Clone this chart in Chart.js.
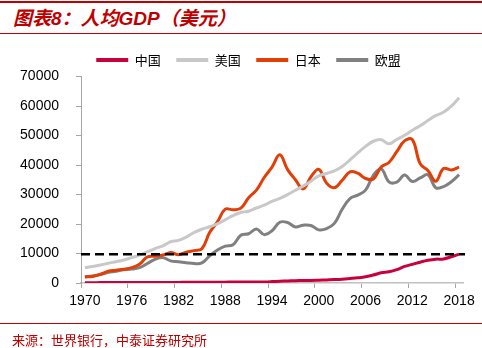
<!DOCTYPE html>
<html>
<head>
<meta charset="utf-8">
<script src="https://cdn.jsdelivr.net/npm/chart.js@4/dist/chart.umd.min.js"></script>
<style>
  html, body { margin: 0; padding: 0; background: #fff; }
  #wrap { position: relative; width: 482px; height: 348px; overflow: hidden; }
  .rule { position: absolute; left: 0; width: 482px; background: #c00000; }
  #title {
    position: absolute; left: 13px; top: 8px; line-height: 22px;
    font-family: "Liberation Sans", "Noto Sans CJK SC", sans-serif;
    font-size: 19px; font-weight: bold; font-style: italic; color: #c00000;
    white-space: nowrap;
  }
  #source {
    position: absolute; left: 12px; top: 331px; line-height: 18px;
    font-family: "Noto Sans CJK SC", sans-serif; font-size: 13px; color: #c00000;
    white-space: nowrap;
  }
  canvas { position: absolute; left: 0; top: 0; }
</style>
</head>
<body>
<div id="wrap">
  <div class="rule" style="top:1px;height:2px;"></div>
  <div id="title">图表8：人均GDP（美元）</div>
  <div class="rule" style="top:33px;height:1px;"></div>
  <canvas id="chart" width="482" height="348"></canvas>
  <div class="rule" style="top:323px;height:1px;"></div>
  <div id="source">来源：世界银行，中泰证券研究所</div>
</div>
<script>
(function () {
  'use strict';

  var years = ['1970','1971','1972','1973','1974','1975','1976','1977','1978','1979',
               '1980','1981','1982','1983','1984','1985','1986','1987','1988','1989',
               '1990','1991','1992','1993','1994','1995','1996','1997','1998','1999',
               '2000','2001','2002','2003','2004','2005','2006','2007','2008','2009',
               '2010','2011','2012','2013','2014','2015','2016','2017','2018'];

  var china = [113,119,132,157,160,178,165,185,156,184,
               195,197,203,225,251,294,282,252,284,311,
               318,333,366,377,473,610,709,782,829,873,
               959,1053,1149,1289,1509,1753,2099,2694,3468,3832,
               4550,5618,6317,7051,7679,8067,8148,8879,9771];

  var usa = [5234,5609,6094,6726,7226,7801,8592,9453,10565,11674,
             12575,13976,14434,15544,17121,18237,19071,20039,21417,22857,
             23889,24342,25419,26387,27695,28691,29968,31459,32854,34515,
             36330,37134,37998,39490,41725,44123,46302,48050,48570,47195,
             48651,50066,51784,53291,55124,56763,57867,59928,62805];

  var japan = [2037,2234,2950,3998,4354,4659,5198,6335,8821,9105,
               9463,10361,9578,10425,10977,11585,17112,20745,25051,24813,
               25359,28925,31465,35766,39269,43440,38437,35022,31903,36027,
               38532,33846,32289,34808,37689,37218,35434,35275,39339,40855,
               44508,48168,48603,40454,38109,34524,38794,38332,39290];

  var eu = [2100,2400,2900,3600,4000,4500,4700,5200,6600,8000,
            8600,7500,7200,6900,6600,6800,9200,11200,12500,13000,
            16200,16700,18300,16400,17700,20600,20500,19000,19600,19500,
            18000,18400,20200,25000,28600,29800,31500,36500,38700,34300,
            34200,36600,34400,35600,36700,32300,32700,34300,36700];

  var seriesNames = ['中国', '美国', '日本', '欧盟'];
  var seriesColors = ['#c8003c', '#c8c8c8', '#e23e08', '#808080'];
  var yTicks = [0, 10000, 20000, 30000, 40000, 50000, 60000, 70000];
  var dashValue = 9771;

  var tickFont = { family: 'Liberation Sans, Arial, sans-serif', size: 14 };
  var axisGray = '#a6a6a6';
  var LEGEND_SHIFT = 17;

  function makeSet(i, data) {
    return {
      label: seriesNames[i],
      data: data,
      borderColor: seriesColors[i],
      backgroundColor: seriesColors[i],
      borderWidth: 3,
      pointRadius: 0,
      tension: 0.4,
      fill: false
    };
  }

  // black dashed reference line at China's latest level
  var dashLine = {
    id: 'dashLine',
    afterDatasetsDraw: function (chart) {
      var ctx = chart.ctx;
      var area = chart.chartArea;
      var y = chart.scales.y.getPixelForValue(dashValue);
      ctx.save();
      ctx.strokeStyle = '#000';
      ctx.lineWidth = 2.5;
      ctx.setLineDash([9, 5]);
      ctx.beginPath();
      ctx.moveTo(area.left, y);
      ctx.lineTo(area.right + 2, y);
      ctx.stroke();
      ctx.restore();
    }
  };

  // legend in the original sits a bit right of the canvas centre
  var legendNudge = {
    id: 'legendNudge',
    afterLayout: function (chart) {
      if (!chart.legend) return;
      chart.legend.left += LEGEND_SHIFT;
      chart.legend.right += LEGEND_SHIFT;
    }
  };

  new Chart(document.getElementById('chart'), {
    type: 'line',
    data: {
      labels: years,
      datasets: [makeSet(0, china), makeSet(1, usa), makeSet(2, japan), makeSet(3, eu)]
    },
    options: {
      responsive: false,
      animation: false,
      devicePixelRatio: 1,
      layout: { padding: { top: 38, left: 0, right: 19, bottom: 35 } },
      plugins: {
        tooltip: { enabled: false },
        legend: {
          position: 'top',
          labels: {
            boxWidth: 32,
            boxHeight: 4,
            padding: 15.5,
            color: '#000',
            font: { family: 'Noto Sans CJK SC, sans-serif', size: 13 },
            generateLabels: function (chart) {
              var items = Chart.defaults.plugins.legend.labels.generateLabels(chart);
              items.forEach(function (it) { it.lineWidth = 0; });
              return items;
            }
          }
        }
      },
      scales: {
        x: {
          type: 'category',
          offset: true,
          afterFit: function (scale) { scale.height = 30; },
          grid: {
            offset: true,
            drawOnChartArea: false,
            tickLength: 5,
            color: function (c) { return c.index % 6 === 0 ? axisGray : 'rgba(0,0,0,0)'; }
          },
          border: { display: true, color: '#bfbfbf', width: 1.5 },
          ticks: {
            autoSkip: false,
            maxRotation: 0,
            padding: 5,
            color: '#000',
            font: tickFont,
            callback: function (v, i) { return i % 6 === 0 ? years[i] : ''; }
          }
        },
        y: {
          min: yTicks[0],
          max: yTicks[yTicks.length - 1],
          afterFit: function (scale) { scale.width = 81; },
          afterBuildTicks: function (scale) {
            scale.ticks = yTicks.map(function (v) { return { value: v }; });
          },
          grid: { drawOnChartArea: false, tickLength: 5, color: axisGray },
          border: { display: true, color: axisGray, width: 1 },
          ticks: {
            padding: 17,
            color: '#000',
            font: tickFont,
            callback: function (v) { return String(v); }
          }
        }
      }
    },
    plugins: [dashLine, legendNudge]
  });
})();
</script>
</body>
</html>
